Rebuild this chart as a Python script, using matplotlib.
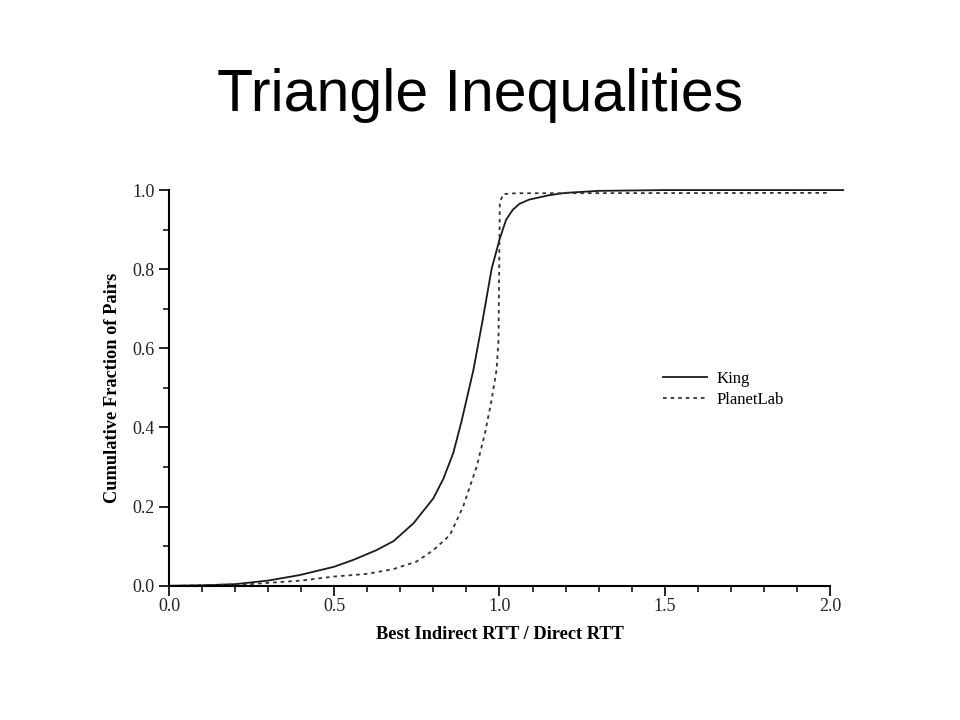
import matplotlib
matplotlib.use("Agg")
import matplotlib.pyplot as plt
from matplotlib.ticker import MultipleLocator, FormatStrFormatter

title = "Triangle Inequalities"
xlabel = "Best Indirect RTT / Direct RTT"
ylabel = "Cumulative Fraction of Pairs"

king_x = [0.0, 0.1, 0.2, 0.245, 0.3, 0.396, 0.5, 0.56, 0.628, 0.68, 0.74, 0.80, 0.83,
          0.86, 0.885, 0.921, 0.949, 0.976, 1.0, 1.02, 1.04, 1.06, 1.09,
          1.15, 1.2, 1.3, 1.5, 2.04]
king_y = [0.0, 0.001, 0.004, 0.008, 0.013, 0.027, 0.048, 0.066, 0.090, 0.113, 0.158, 0.221,
          0.270, 0.335, 0.415, 0.545, 0.671, 0.800, 0.875, 0.925, 0.950, 0.965, 0.976,
          0.987, 0.993, 0.998, 1.0, 1.0]

planet_x = [0.04, 0.245, 0.4, 0.497, 0.6, 0.679, 0.749, 0.80, 0.85, 0.89, 0.931,
            0.941, 0.956, 0.976, 0.991, 0.997, 1.001, 1.012, 1.05, 2.0]
planet_y = [0.0, 0.004, 0.013, 0.023, 0.030, 0.042, 0.061, 0.090, 0.128, 0.200, 0.301,
            0.335, 0.385, 0.469, 0.545, 0.62, 0.97, 0.99, 0.992, 0.993]

series_labels = ["King", "PlanetLab"]

fig = plt.figure(figsize=(9.6, 7.2), dpi=100)
fig.text(0.5, 0.867, title, ha="center", va="center",
         fontsize=42.5, family="Liberation Sans", color="black")

ax = fig.add_axes([0.176, 0.1865, 0.6886, 0.5495])
ax.plot(king_x, king_y, color="#1a1a1a", lw=1.3, label=series_labels[0], clip_on=False)
ax.plot(planet_x, planet_y, color="#333333", lw=1.3, linestyle=(0, (2, 2.2)),
        label=series_labels[1], clip_on=False)

ax.set_xlim(0, 2)
ax.set_ylim(0, 1)
for s in ["top", "right"]:
    ax.spines[s].set_visible(False)
for s in ["left", "bottom"]:
    ax.spines[s].set_linewidth(1.5)

ax.xaxis.set_major_locator(MultipleLocator(0.5))
ax.xaxis.set_minor_locator(MultipleLocator(0.1))
ax.yaxis.set_major_locator(MultipleLocator(0.2))
ax.yaxis.set_minor_locator(MultipleLocator(0.1))
ax.xaxis.set_major_formatter(FormatStrFormatter("%.1f"))
ax.yaxis.set_major_formatter(FormatStrFormatter("%.1f"))
ax.tick_params(which="major", direction="out", length=7, width=1.2, labelsize=13,
               pad=3.5)
ax.tick_params(axis="x", which="major", pad=2)
ax.tick_params(which="minor", direction="out", length=4, width=1.1)
for lab in ax.get_xticklabels() + ax.get_yticklabels():
    lab.set_family("Liberation Serif")
    lab.set_color("#222222")

ax.set_xlabel(xlabel, fontsize=13.2, fontweight="bold", family="Liberation Serif",
              labelpad=8)
ax.set_ylabel(ylabel, fontsize=13.2, fontweight="bold", family="Liberation Serif",
              labelpad=8)

leg = ax.legend(loc="upper left", bbox_to_anchor=(0.725, 0.58), frameon=False,
                prop={"family": "Liberation Serif", "size": 12},
                handlelength=2.6, handletextpad=0.6, labelspacing=0.3)

fig.savefig("out.png", dpi=100, facecolor="white")
